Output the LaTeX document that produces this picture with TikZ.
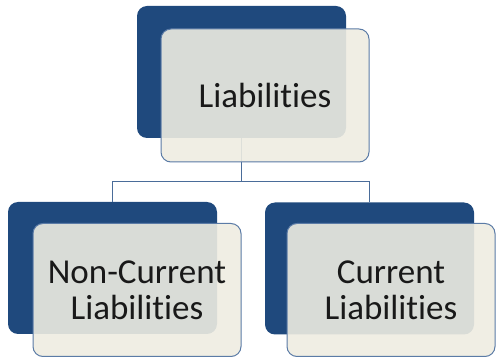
\documentclass[tikz,border=0pt]{standalone}
\usepackage{fontspec}
\setmainfont{Carlito}[Ligatures=NoCommon]
\definecolor{backblue}{HTML}{1F497D}
\definecolor{frontfill}{HTML}{EEECE1}
\definecolor{edgeblue}{HTML}{5B7BA6}
\definecolor{linkblue}{HTML}{4A6C99}
\tikzset{>=latex}
\tikzset{
  backbox/.style={fill=backblue, rounded corners=10pt, minimum width=209pt, minimum height=132pt, inner sep=0pt},
  frontbox/.style={fill=frontfill, fill opacity=0.9, text opacity=1, draw=edgeblue, line width=1pt, rounded corners=10pt,
    minimum width=208pt, minimum height=133pt, inner sep=0pt, align=center, text=black!90,
    font=\fontsize{35}{36}\selectfont},
  link/.style={draw=linkblue, line width=1pt}
}

\begin{document}
\begin{tikzpicture}[x=1pt,y=-1pt]
            \useasboundingbox (0,0) rectangle (496,358);
            \node[backbox] (topback) at (241.5,72) {};
            \node[backbox] (leftback) at (112.5,268) {};
            \node[backbox] (rightback) at (369.5,268.5) {};
            \coordinate (split) at (241.5,182);
            \draw[link] (topback.south) -- (split) -| (leftback.north);
            \draw[link] (split) -| (rightback.north);
            \node[frontbox] (top) at (265,95.5) {Liabilities};
            \node[frontbox] (left) at (137,290) {Non-Current\\Liabilities};
            \node[frontbox] (right) at (391,290) {Current\\Liabilities};
        \end{tikzpicture}
\end{document}
